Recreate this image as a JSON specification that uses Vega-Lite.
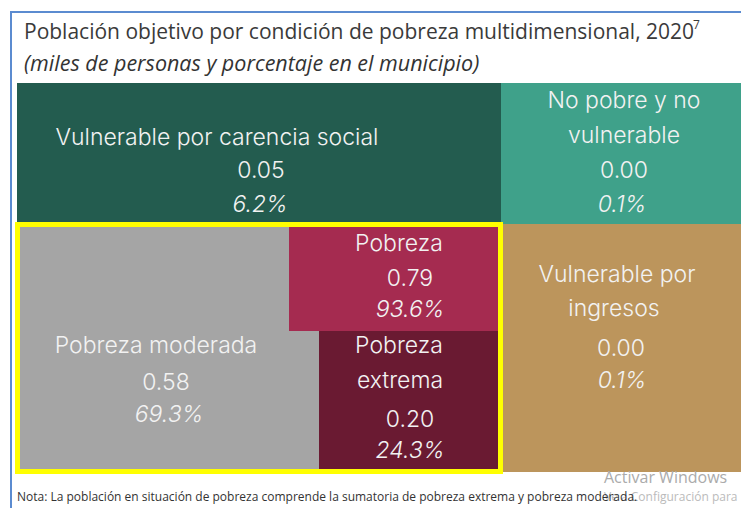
{
  "$schema": "https://vega.github.io/schema/vega-lite/v6.json",
  "width": 741,
  "height": 508,
  "padding": 0,
  "autosize": {"type": "none"},
  "background": "white",
  "config": {"view": {"stroke": null}},
  "datasets": {
    "marco": [{"x0": 11, "x1": 780, "y0": 12, "y1": 540}],
    "cajas": [
      {"cat": "Vulnerable por carencia social", "x0": 17, "x1": 501, "y0": 83, "y1": 224},
      {"cat": "No pobre y no vulnerable", "x0": 501, "x1": 741, "y0": 83, "y1": 224},
      {"cat": "Vulnerable por ingresos", "x0": 503, "x1": 741, "y0": 224, "y1": 472},
      {"cat": "Pobreza moderada", "x0": 20, "x1": 319, "y0": 227, "y1": 469},
      {"cat": "Pobreza", "x0": 289, "x1": 499, "y0": 227, "y1": 331},
      {"cat": "Pobreza extrema", "x0": 319, "x1": 499, "y0": 331, "y1": 469}
    ],
    "borde": [{"x0": 17.5, "x1": 500.5, "y0": 224.5, "y1": 471.5}],
    "textos": [
      {"t": "Vulnerable por carencia social", "k": "nombre", "x": 217, "y": 145},
      {"t": "0.05", "k": "valor", "x": 261, "y": 178},
      {"t": "6.2%", "k": "pct", "x": 260, "y": 212},
      {"t": "No pobre y no", "k": "nombre", "x": 624, "y": 108},
      {"t": "vulnerable", "k": "nombre", "x": 624, "y": 143},
      {"t": "0.00", "k": "valor", "x": 624, "y": 178},
      {"t": "0.1%", "k": "pct", "x": 622, "y": 212},
      {"t": "Pobreza", "k": "nombre", "x": 399, "y": 251},
      {"t": "0.79", "k": "valor", "x": 410, "y": 286},
      {"t": "93.6%", "k": "pct", "x": 410, "y": 317},
      {"t": "Pobreza moderada", "k": "nombre", "x": 156, "y": 353},
      {"t": "0.58", "k": "valor", "x": 166, "y": 390},
      {"t": "69.3%", "k": "pct", "x": 169, "y": 422},
      {"t": "Pobreza", "k": "nombre", "x": 399, "y": 353},
      {"t": "extrema", "k": "nombre", "x": 400, "y": 388},
      {"t": "0.20", "k": "valor", "x": 410, "y": 427},
      {"t": "24.3%", "k": "pct", "x": 410, "y": 458},
      {"t": "Vulnerable por", "k": "nombre", "x": 617, "y": 282},
      {"t": "ingresos", "k": "nombre", "x": 614, "y": 316},
      {"t": "0.00", "k": "valor", "x": 621, "y": 356},
      {"t": "0.1%", "k": "pct", "x": 622, "y": 388}
    ]
  },
  "layer": [
    {
      "data": {"name": "marco"},
      "mark": {"type": "rect", "fill": "white", "stroke": "#5B8BD0", "strokeWidth": 2, "clip": false},
      "encoding": {
        "x": {"field": "x0", "type": "quantitative", "scale": {"domain": [0, 741], "nice": false, "zero": false}, "axis": null},
        "x2": {"field": "x1"},
        "y": {"field": "y0", "type": "quantitative", "scale": {"domain": [0, 508], "nice": false, "zero": false, "reverse": true}, "axis": null},
        "y2": {"field": "y1"}
      }
    },
    {
      "data": {"name": "cajas"},
      "mark": {"type": "rect"},
      "encoding": {
        "x": {"field": "x0", "type": "quantitative"},
        "x2": {"field": "x1"},
        "y": {"field": "y0", "type": "quantitative"},
        "y2": {"field": "y1"},
        "color": {
          "field": "cat",
          "type": "nominal",
          "legend": null,
          "scale": {
            "domain": ["Vulnerable por carencia social", "No pobre y no vulnerable", "Vulnerable por ingresos", "Pobreza moderada", "Pobreza", "Pobreza extrema"],
            "range": ["#235C4F", "#3FA18A", "#BC955C", "#A5A5A5", "#A52B50", "#6A1A32"]
          }
        }
      }
    },
    {
      "data": {"name": "borde"},
      "mark": {"type": "rect", "fill": null, "stroke": "#FFFF00", "strokeWidth": 5},
      "encoding": {
        "x": {"field": "x0", "type": "quantitative"},
        "x2": {"field": "x1"},
        "y": {"field": "y0", "type": "quantitative"},
        "y2": {"field": "y1"}
      }
    },
    {
      "data": {"name": "textos"},
      "transform": [{"filter": "datum.k !== 'pct'"}],
      "mark": {"type": "text", "font": "Inter", "fontSize": 23, "fontWeight": 300, "color": "#F2F2F2", "align": "center", "baseline": "alphabetic"},
      "encoding": {
        "x": {"field": "x", "type": "quantitative"},
        "y": {"field": "y", "type": "quantitative"},
        "text": {"field": "t"}
      }
    },
    {
      "data": {"name": "textos"},
      "transform": [{"filter": "datum.k === 'pct'"}],
      "mark": {"type": "text", "font": "Inter", "fontSize": 23, "fontWeight": 300, "fontStyle": "italic", "color": "#F2F2F2", "align": "center", "baseline": "alphabetic"},
      "encoding": {
        "x": {"field": "x", "type": "quantitative"},
        "y": {"field": "y", "type": "quantitative"},
        "text": {"field": "t"}
      }
    },
    {
      "data": {"values": [{"t": "Población objetivo por condición de pobreza multidimensional, 2020", "x": 24, "y": 39}]},
      "mark": {"type": "text", "font": "Open Sans", "fontSize": 21, "color": "#3A3A3A", "align": "left", "baseline": "alphabetic"},
      "encoding": {"x": {"field": "x", "type": "quantitative"}, "y": {"field": "y", "type": "quantitative"}, "text": {"field": "t"}}
    },
    {
      "data": {"values": [{"t": "7", "x": 693, "y": 29}]},
      "mark": {"type": "text", "font": "Open Sans", "fontSize": 12, "color": "#3A3A3A", "align": "left", "baseline": "alphabetic"},
      "encoding": {"x": {"field": "x", "type": "quantitative"}, "y": {"field": "y", "type": "quantitative"}, "text": {"field": "t"}}
    },
    {
      "data": {"values": [{"t": "(miles de personas y porcentaje en el municipio)", "x": 24, "y": 71}]},
      "mark": {"type": "text", "font": "Open Sans", "fontSize": 21.5, "fontStyle": "italic", "color": "#333333", "align": "left", "baseline": "alphabetic"},
      "encoding": {"x": {"field": "x", "type": "quantitative"}, "y": {"field": "y", "type": "quantitative"}, "text": {"field": "t"}}
    },
    {
      "data": {"values": [{"t": "Activar Windows", "x": 604, "y": 483}]},
      "mark": {"type": "text", "font": "Open Sans", "fontSize": 16, "color": "#ABABAB", "align": "left", "baseline": "alphabetic"},
      "encoding": {"x": {"field": "x", "type": "quantitative"}, "y": {"field": "y", "type": "quantitative"}, "text": {"field": "t"}}
    },
    {
      "data": {"values": [{"t": "Ve a Configuración para", "x": 604, "y": 501}]},
      "mark": {"type": "text", "font": "Open Sans", "fontSize": 12, "color": "#BBBBBB", "align": "left", "baseline": "alphabetic", "clip": false},
      "encoding": {"x": {"field": "x", "type": "quantitative"}, "y": {"field": "y", "type": "quantitative"}, "text": {"field": "t"}}
    },
    {
      "data": {"values": [{"t": "Nota: La población en situación de pobreza comprende la sumatoria de pobreza extrema y pobreza moderada.", "x": 17, "y": 501}]},
      "mark": {"type": "text", "font": "Open Sans", "fontSize": 12, "color": "#333333", "align": "left", "baseline": "alphabetic"},
      "encoding": {"x": {"field": "x", "type": "quantitative"}, "y": {"field": "y", "type": "quantitative"}, "text": {"field": "t"}}
    }
  ]
}
